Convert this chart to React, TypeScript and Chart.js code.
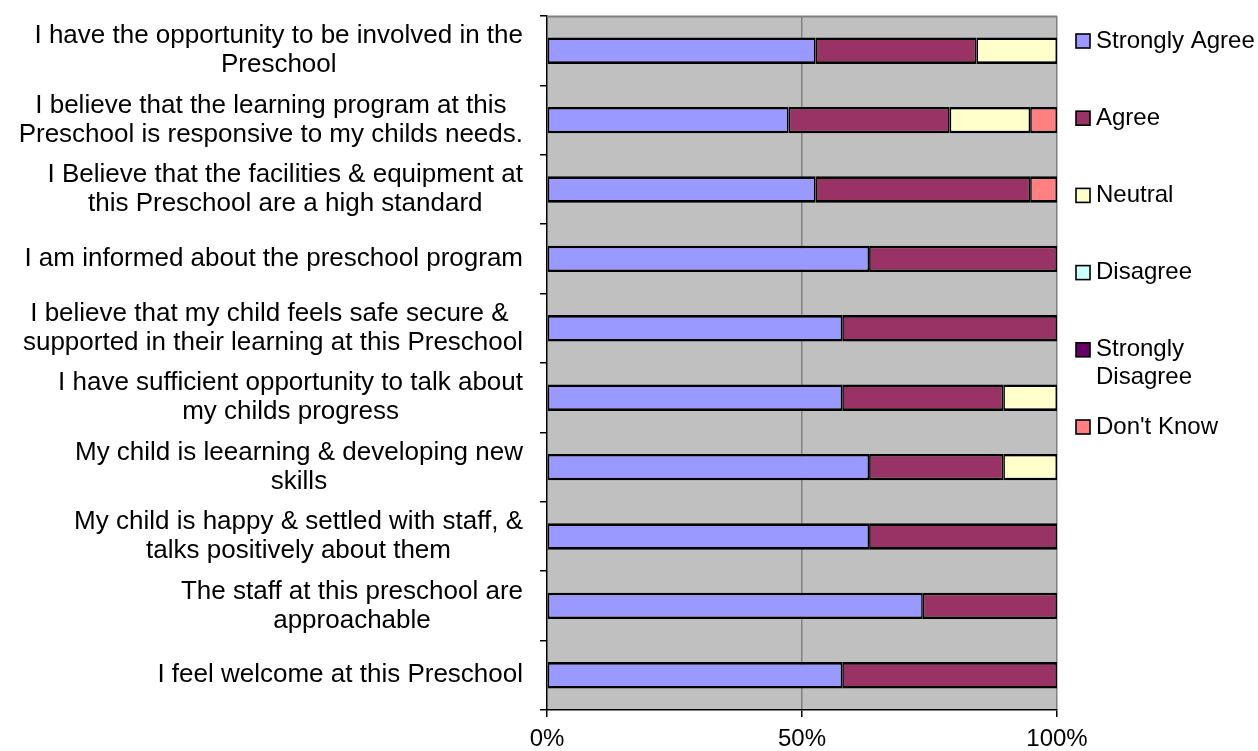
import React, { useEffect, useRef } from "react";
import { Chart, registerables } from "chart.js";

Chart.register(...registerables);

const categories: string[][] = [
  ["I have the opportunity to be involved in the", "Preschool"],
  ["I believe that the learning program at this", "Preschool is responsive to my childs needs."],
  ["I Believe that the facilities & equipment at", "this Preschool are a high standard"],
  ["I am informed about the preschool program"],
  ["I believe that my child feels safe secure & ", "supported in their learning at this Preschool"],
  ["I have sufficient opportunity to talk about", "my childs progress"],
  ["My child is leearning & developing new", "skills"],
  ["My child is happy & settled with staff, &", "talks positively about them"],
  ["The staff at this preschool are", "approachable"],
  ["I feel welcome at this Preschool"],
];

// Response counts per statement
const stronglyAgree = [10, 9, 10, 12, 11, 11, 12, 12, 14, 11];
const agree = [6, 6, 8, 7, 8, 6, 5, 7, 5, 8];
const neutral = [3, 3, 0, 0, 0, 2, 2, 0, 0, 0];
const disagree = [0, 0, 0, 0, 0, 0, 0, 0, 0, 0];
const stronglyDisagree = [0, 0, 0, 0, 0, 0, 0, 0, 0, 0];
const dontKnow = [0, 1, 1, 0, 0, 0, 0, 0, 0, 0];

const seriesNames = ["Strongly Agree", "Agree", "Neutral", "Disagree", "Strongly Disagree", "Don't Know"];
const seriesLegendLines = [["Strongly Agree"], ["Agree"], ["Neutral"], ["Disagree"], ["Strongly", "Disagree"], ["Don't Know"]];
const seriesColors = ["#9999FF", "#993366", "#FFFFCC", "#CCFFFF", "#660066", "#FF8080"];
const xTickValues = [0, 50, 100];

const FONT = "'Liberation Sans', Arial, sans-serif";

export default function App() {
  const canvasRef = useRef<HTMLCanvasElement | null>(null);

  useEffect(() => {
    const canvas = canvasRef.current;
    if (!canvas) return;
    const allSeries = [stronglyAgree, agree, neutral, disagree, stronglyDisagree, dontKnow];
    const totals = categories.map((_, i) => allSeries.reduce((s, arr) => s + arr[i], 0));
    const toPct = (arr: number[]) => arr.map((v, i) => (v > 0 ? (v / totals[i]) * 100 : null));

    const bgPlugin = {
      id: "plotBg",
      beforeDraw(chart: any) {
        const { ctx, chartArea } = chart;
        ctx.save();
        ctx.fillStyle = "#C0C0C0";
        ctx.fillRect(chartArea.left, chartArea.top, chartArea.right - chartArea.left, chartArea.bottom - chartArea.top);
        ctx.restore();
      },
      beforeDatasetsDraw(chart: any) {
        const { ctx, chartArea } = chart;
        ctx.save();
        ctx.strokeStyle = "#808080";
        ctx.lineWidth = 2;
        ctx.beginPath();
        ctx.moveTo(chartArea.left, chartArea.top + 0.5);
        ctx.lineTo(chartArea.right, chartArea.top + 0.5);
        ctx.stroke();
        ctx.restore();
      },
    };

    const labelPlugin = {
      id: "customLabels",
      afterDraw(chart: any) {
        const { ctx, chartArea } = chart;
        const yScale = chart.scales.y;
        ctx.save();
        ctx.font = `26px ${FONT}`;
        ctx.fillStyle = "#000";
        ctx.textAlign = "center";
        ctx.textBaseline = "middle";
        const lineH = 29;
        const rightEdge = chartArea.left - 24;
        categories.forEach((lines, i) => {
          const cy = yScale.getPixelForValue(i);
          const w = Math.max(...lines.map((l) => ctx.measureText(l).width));
          const cx = rightEdge - w / 2;
          const y0 = cy - ((lines.length - 1) * lineH) / 2;
          lines.forEach((l, j) => ctx.fillText(l, cx, y0 + j * lineH));
        });

        // legend
        ctx.font = `24px ${FONT}`;
        ctx.textAlign = "left";
        const lx = chartArea.right + 19;
        const ly0 = chartArea.top + 25;
        const step = 77.2;
        seriesLegendLines.forEach((lines, i) => {
          const cy = ly0 + i * step;
          ctx.fillStyle = seriesColors[i];
          ctx.fillRect(lx, cy - 7, 14, 14);
          ctx.strokeStyle = "#000";
          ctx.lineWidth = 1.6;
          ctx.strokeRect(lx, cy - 7, 14, 14);
          ctx.fillStyle = "#000";
          lines.forEach((l, j) => ctx.fillText(l, lx + 20, cy + j * 28));
        });
        ctx.restore();
      },
    };

    const chart = new Chart(canvas, {
      type: "bar",
      data: {
        labels: categories.map((c) => c.join(" ")),
        datasets: allSeries.map((arr, k) => ({
          label: seriesNames[k],
          data: toPct(arr),
          backgroundColor: seriesColors[k],
          borderColor: "#000",
          borderWidth: { top: 2.6, bottom: 2.6, left: 1.6, right: 1.6 },
          borderSkipped: false,
          barPercentage: 0.38,
          categoryPercentage: 1,
        })),
      },
      options: {
        indexAxis: "y",
        animation: false,
        responsive: true,
        maintainAspectRatio: false,
        layout: { padding: { top: 16, right: 201, bottom: 0, left: 0 } },
        plugins: { legend: { display: false }, tooltip: { enabled: false } },
        scales: {
          x: {
            stacked: true,
            min: 0,
            max: 100,
            afterBuildTicks: (scale: any) => {
              scale.ticks = xTickValues.map((v) => ({ value: v }));
            },
            afterFit: (scale: any) => {
              scale.height = 41;
            },
            ticks: {
              callback: (v: any) => `${v}%`,
              color: "#000",
              font: { family: FONT, size: 24 },
              padding: 8,
              maxRotation: 0,
            },
            grid: {
              color: (c: any) => (c.tick && c.tick.value === 0 ? "rgba(0,0,0,0)" : "#808080"),
              lineWidth: 1.5,
              drawTicks: true,
              tickLength: 7,
              tickColor: "#000",
            },
            border: { color: "#000", width: 1.5 },
          },
          y: {
            stacked: true,
            afterFit: (scale: any) => {
              scale.width = 547;
            },
            ticks: { display: false },
            grid: {
              offset: true,
              drawOnChartArea: false,
              drawTicks: true,
              tickLength: 7,
              tickColor: "#000",
              lineWidth: 1.5,
            },
            border: { color: "#000", width: 1.5 },
          },
        },
      },
      plugins: [bgPlugin, labelPlugin],
    } as any);

    return () => chart.destroy();
  }, []);

  return (
    <div style={{ position: "fixed", left: 0, top: 0, width: 1258, height: 751 }}>
      <canvas ref={canvasRef} />
    </div>
  );
}
